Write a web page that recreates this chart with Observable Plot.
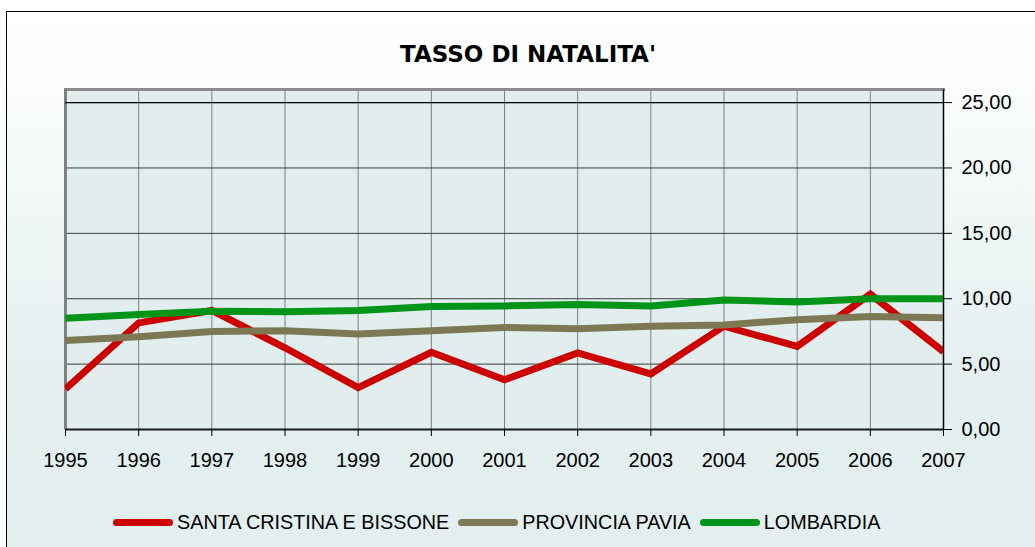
<!DOCTYPE html>
<html>
<head>
<meta charset="utf-8">
<script src="https://cdn.jsdelivr.net/npm/d3@7"></script>
<script src="https://cdn.jsdelivr.net/npm/@observablehq/plot@0.6"></script>
<style>
  html, body { margin: 0; padding: 0; background: #fff; }
  #chart { position: relative; width: 1035px; height: 547px; overflow: hidden; background: #fff;
           font-family: "Liberation Sans", Arial, sans-serif; }
  #frame { position: absolute; left: 6px; top: 11px; width: 1040px; height: 545px;
           border-left: 1px solid #000; border-top: 1px solid #000;
           background: linear-gradient(to bottom, #ffffff 0px, #fbfdfd 70px, #e4efef 360px, #e3eeee 545px); }
  #title { position: absolute; left: 0; width: 1056px; top: 41px; text-align: center;
           font-family: "DejaVu Sans", sans-serif; font-weight: bold; font-size: 23px; color: #000; line-height: 1.2; }
  #plot { position: absolute; left: 0; top: 0; }
  #legend { position: absolute; left: 113px; top: 510px; display: flex; align-items: center;
            font-size: 19.8px; color: #000; white-space: nowrap; line-height: 24px; }
  .item { display: flex; align-items: center; margin-right: 9px; }
  .sw { width: 60px; height: 7px; border-radius: 4px; margin-right: 4px; }
</style>
</head>
<body>
<div id="chart">
  <div id="frame"></div>
  <div id="title">TASSO DI NATALITA'</div>
  <div id="plot"></div>
  <div id="legend"></div>
</div>
<script>
const years = [1995, 1996, 1997, 1998, 1999, 2000, 2001, 2002, 2003, 2004, 2005, 2006, 2007];
const santaCristina = [3.1, 8.15, 9.1, 6.25, 3.2, 5.9, 3.8, 5.85, 4.25, 7.9, 6.35, 10.35, 5.95];
const provinciaPavia = [6.8, 7.1, 7.5, 7.55, 7.3, 7.55, 7.8, 7.7, 7.9, 8.0, 8.4, 8.65, 8.55];
const lombardia = [8.5, 8.8, 9.05, 9.0, 9.1, 9.4, 9.45, 9.55, 9.45, 9.9, 9.75, 10.0, 10.0];
const seriesNames = ["SANTA CRISTINA E BISSONE", "PROVINCIA PAVIA", "LOMBARDIA"];
const seriesColors = ["#cc0000", "#7b7853", "#009418"];
const yTicks = [0, 5, 10, 15, 20, 25];
const yMax = 26;

const seriesValues = [santaCristina, provinciaPavia, lombardia];
const data = [];
seriesNames.forEach((name, i) => {
  years.forEach((yr, j) => data.push({series: name, year: yr, value: seriesValues[i][j]}));
});

const fmt = d => d.toFixed(2).replace(".", ",");

const chart = Plot.plot({
  width: 1035,
  height: 480,
  marginLeft: 65,
  marginRight: 92,
  marginTop: 89,
  marginBottom: 51,
  style: {fontFamily: "Liberation Sans, Arial, sans-serif", fontSize: "20px", color: "#000", background: "transparent", overflow: "visible"},
  x: {type: "linear", domain: [years[0], years[years.length - 1]]},
  y: {domain: [yTicks[0], yMax]},
  color: {domain: seriesNames, range: seriesColors},
  marks: [
    Plot.frame({fill: "#e2eeee", stroke: null}),
    Plot.ruleX(years, {stroke: "#7f7f7f", strokeWidth: 1}),
    Plot.ruleY(yTicks, {stroke: "#3a3a3a", strokeWidth: 1}),
    Plot.frame({anchor: "top", stroke: "#8a8a8a", strokeWidth: 3}),
    Plot.ruleX([years[0]], {stroke: "#808080", strokeWidth: 3}),
    Plot.ruleX([years[years.length - 1]], {stroke: "#000", strokeWidth: 1.5}),
    Plot.ruleY([yTicks[0]], {stroke: "#1a1a1a", strokeWidth: 2}),
    Plot.ruleY([yTicks[yTicks.length - 1]], {stroke: "#000", strokeWidth: 1.2}),
    Plot.axisY({anchor: "right", ticks: yTicks, tickFormat: fmt, tickSize: 8, tickPadding: 10, label: null, stroke: "#000"}),
    Plot.axisX({anchor: "bottom", ticks: years, tickFormat: d => String(d), tickSize: 7, tickPadding: 16, label: null, stroke: "#000"}),
    Plot.line(data, {x: "year", y: "value", z: "series", stroke: "series", strokeWidth: 7, strokeLinejoin: "miter", strokeMiterlimit: 4, strokeLinecap: "butt", clip: "frame"})
  ]
});
document.getElementById("plot").appendChild(chart);

const legend = document.getElementById("legend");
seriesNames.forEach((name, i) => {
  const item = document.createElement("div");
  item.className = "item";
  const sw = document.createElement("div");
  sw.className = "sw";
  sw.style.background = seriesColors[i];
  const t = document.createElement("span");
  t.textContent = name;
  item.appendChild(sw);
  item.appendChild(t);
  legend.appendChild(item);
});
</script>
</body>
</html>
